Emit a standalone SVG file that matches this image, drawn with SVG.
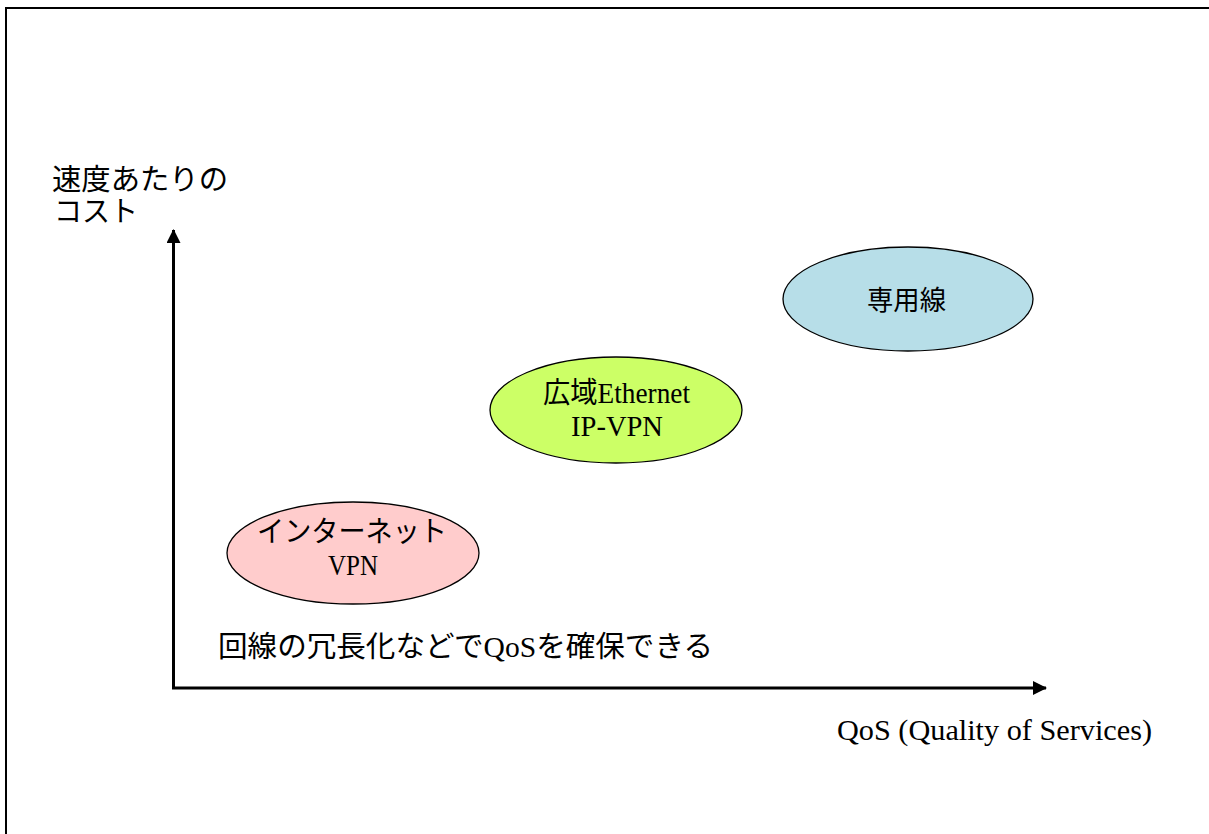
<svg xmlns="http://www.w3.org/2000/svg" width="1209" height="834" viewBox="0 0 1209 834">
<style>
.t{font-family:"Liberation Serif","Noto Sans CJK JP",serif;font-size:29px;fill:#000}
.s{font-family:"Noto Sans CJK JP","Liberation Sans",sans-serif;font-size:27px;fill:#000}
.n{stroke:#000;stroke-width:1.3}
.ax{stroke:#000;stroke-width:3;fill:none}
</style>
<defs>
<marker id="ah" viewBox="0 0 14 14" refX="13" refY="7" markerWidth="14" markerHeight="14" markerUnits="userSpaceOnUse" orient="auto">
<path d="M0,0 L14,7 L0,14 z" fill="#000"/>
</marker>
</defs>
<rect width="1209" height="834" fill="#fff"/>
<path d="M6,834 V8 H1209" fill="none" stroke="#000" stroke-width="2"/>
<g id="connectors">
<path class="ax" d="M173.5,688 V230" marker-end="url(#ah)"/>
<path class="ax" d="M172,688 H1046" marker-end="url(#ah)"/>
</g>
<g id="yaxis-label">
<text class="t" x="52" y="190" textLength="176" lengthAdjust="spacingAndGlyphs">速度あたりの</text>
<text class="t" x="54" y="222" textLength="84" lengthAdjust="spacingAndGlyphs">コスト</text>
</g>
<g id="node-internet">
<ellipse class="n" cx="353" cy="553" rx="126" ry="51" fill="#FFCCCC"/>
<text class="t" x="257" y="542" textLength="190" lengthAdjust="spacingAndGlyphs">インターネット</text>
<text class="t" x="328" y="575" textLength="50" lengthAdjust="spacingAndGlyphs">VPN</text>
</g>
<g id="node-ethernet">
<ellipse class="n" cx="616" cy="410" rx="126" ry="53" fill="#CCFF66"/>
<text class="t" x="543" y="403" textLength="147" lengthAdjust="spacingAndGlyphs">広域Ethernet</text>
<text class="t" x="571" y="436" textLength="92" lengthAdjust="spacingAndGlyphs">IP-VPN</text>
</g>
<g id="node-leased">
<ellipse class="n" cx="908" cy="299" rx="125" ry="52" fill="#B7DEE8"/>
<text class="s" x="867" y="310" textLength="79" lengthAdjust="spacingAndGlyphs">専用線</text>
</g>
<g id="note">
<text class="t" x="218" y="657" textLength="495" lengthAdjust="spacingAndGlyphs">回線の冗長化などでQoSを確保できる</text>
</g>
<g id="xaxis-label">
<text class="t" x="837" y="740" textLength="315" lengthAdjust="spacingAndGlyphs">QoS (Quality of Services)</text>
</g>
</svg>
